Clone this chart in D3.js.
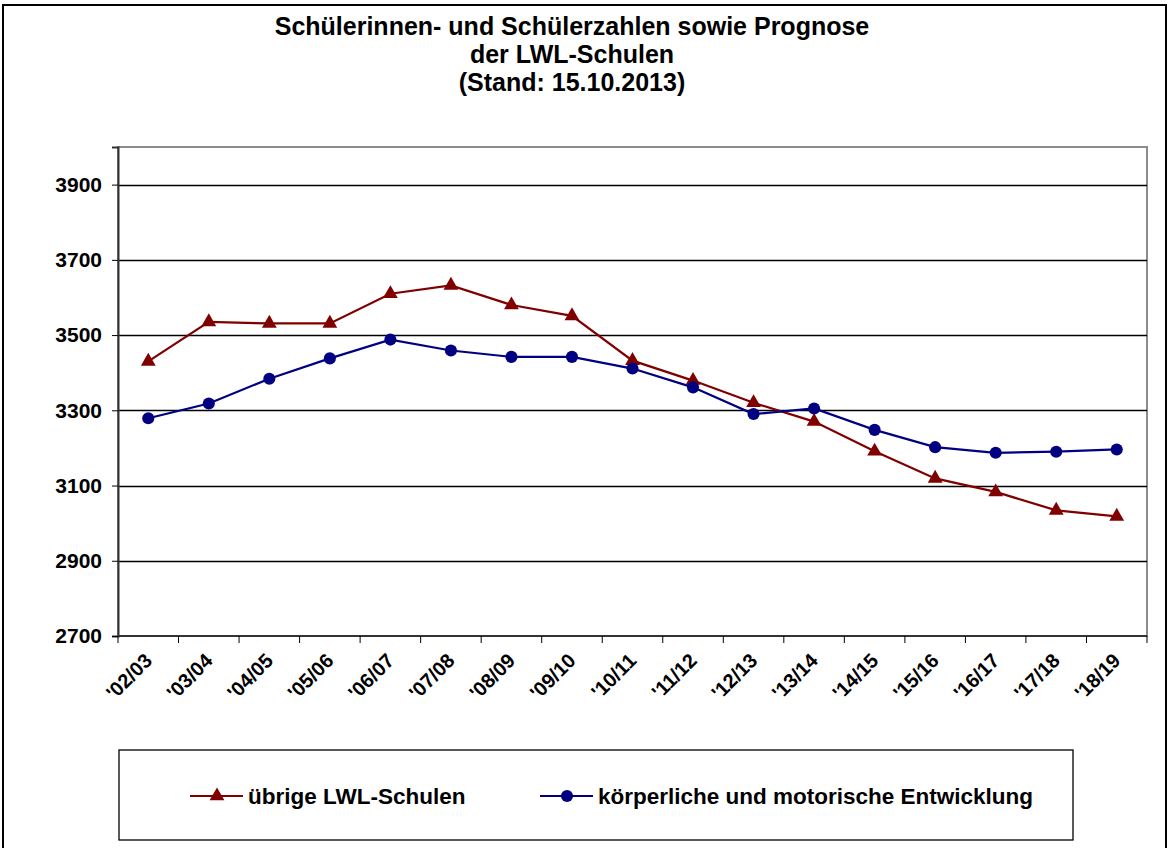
<!DOCTYPE html>
<html>
<head>
<meta charset="utf-8">
<script src="https://cdn.jsdelivr.net/npm/d3@7"></script>
<style>
  body { margin: 0; background: #fff; }
  svg { display: block; font-family: "Liberation Sans", Arial, sans-serif; }
</style>
</head>
<body>
<script>
var years = ["'02/03", "'03/04", "'04/05", "'05/06", "'06/07", "'07/08", "'08/09", "'09/10",
             "'10/11", "'11/12", "'12/13", "'13/14", "'14/15", "'15/16", "'16/17", "'17/18", "'18/19"];

var uebrige = [3430, 3535, 3531, 3531, 3610, 3632, 3580, 3551, 3432, 3379, 3320, 3270, 3191, 3119, 3083, 3034, 3018];
var koerper = [3279, 3318, 3384, 3438, 3488, 3459, 3442, 3442, 3411, 3361, 3290, 3305, 3248, 3202, 3187, 3190, 3196];

var yTicks = [2700, 2900, 3100, 3300, 3500, 3700, 3900];

var titleLines = ["Schülerinnen- und Schülerzahlen sowie Prognose", "der LWL-Schulen", "(Stand: 15.10.2013)"];

var series = [
    { name: "übrige LWL-Schulen", values: uebrige, color: "#800000", symbol: "triangle" },
    { name: "körperliche und motorische Entwicklung", values: koerper, color: "#000080", symbol: "circle" }
];

var width = 1170, height = 848;
var plot = { left: 118, right: 1147, top: 147, bottom: 636 };

var svg = d3.select("body").append("svg")
    .attr("width", width)
    .attr("height", height);

// outer frame
svg.append("rect")
    .attr("x", 3).attr("y", 5)
    .attr("width", 1163).attr("height", 860)
    .attr("fill", "#fff")
    .attr("stroke", "#000")
    .attr("stroke-width", 2);

// title
svg.append("g").selectAll("text")
    .data(titleLines)
    .enter().append("text")
    .attr("x", 572)
    .attr("y", function(d, i) { return 35 + i * 28; })
    .attr("text-anchor", "middle")
    .attr("font-size", 25)
    .attr("font-weight", "bold")
    .text(function(d) { return d; });

var x = d3.scaleBand()
    .domain(years)
    .range([plot.left, plot.right]);

var y = d3.scaleLinear()
    .domain([2700, 4000])
    .range([plot.bottom, plot.top]);

// plot area border
svg.append("rect")
    .attr("x", plot.left).attr("y", plot.top)
    .attr("width", plot.right - plot.left)
    .attr("height", plot.bottom - plot.top)
    .attr("fill", "#fff")
    .attr("stroke", "#8c8c8c")
    .attr("stroke-width", 2);

// gridlines
svg.append("g").selectAll("line")
    .data(yTicks.slice(1))
    .enter().append("line")
    .attr("x1", plot.left).attr("x2", plot.right)
    .attr("y1", function(d) { return Math.round(y(d)) + 0.5; })
    .attr("y2", function(d) { return Math.round(y(d)) + 0.5; })
    .attr("stroke", "#000")
    .attr("stroke-width", 1.3);

// y axis
var yAxis = svg.append("g")
    .attr("transform", "translate(" + plot.left + ",0)")
    .call(d3.axisLeft(y).tickValues(yTicks).tickSize(6).tickPadding(10).tickFormat(d3.format("d")));
yAxis.select(".domain").attr("stroke", "#333").attr("stroke-width", 2);
yAxis.selectAll(".tick line").attr("stroke", "#000");
yAxis.selectAll("text")
    .attr("font-size", 21)
    .attr("font-weight", "bold")
    .attr("font-family", "Liberation Sans, Arial, sans-serif")
    .attr("fill", "#000");

// x axis: ticks between categories
var xAxis = svg.append("g")
    .attr("transform", "translate(0," + plot.bottom + ")");
xAxis.append("line")
    .attr("x1", plot.left).attr("x2", plot.right)
    .attr("stroke", "#333").attr("stroke-width", 2);
var boundaries = years.map(function(d) { return x(d); }).concat([plot.right]);
xAxis.selectAll(".xtick")
    .data(boundaries)
    .enter().append("line")
    .attr("class", "xtick")
    .attr("x1", function(d) { return d; }).attr("x2", function(d) { return d; })
    .attr("y1", 0).attr("y2", 7)
    .attr("stroke", "#000");
xAxis.selectAll("text")
    .data(years)
    .enter().append("text")
    .attr("transform", function(d) {
        return "translate(" + (x(d) + x.bandwidth() / 2 + 5) + ",26) rotate(-45)";
    })
    .attr("text-anchor", "end")
    .attr("font-size", 20)
    .attr("font-weight", "bold")
    .text(function(d) { return d; });

// lines and markers
var line = d3.line()
    .x(function(d, i) { return x(years[i]) + x.bandwidth() / 2; })
    .y(function(d) { return y(d); });

var triangle = d3.symbol().type(d3.symbolTriangle).size(95);
var circle = d3.symbol().type(d3.symbolCircle).size(115);

series.forEach(function(s) {
    svg.append("path")
        .datum(s.values)
        .attr("fill", "none")
        .attr("stroke", s.color)
        .attr("stroke-width", 2.2)
        .attr("d", line);

    svg.append("g").selectAll("path")
        .data(s.values)
        .enter().append("path")
        .attr("transform", function(d, i) {
            return "translate(" + (x(years[i]) + x.bandwidth() / 2) + "," + y(d) + ")";
        })
        .attr("d", s.symbol === "triangle" ? triangle : circle)
        .attr("fill", s.color);
});

// legend
var legend = svg.append("g");
legend.append("rect")
    .attr("x", 119).attr("y", 750)
    .attr("width", 954).attr("height", 90)
    .attr("fill", "#fff")
    .attr("stroke", "#000")
    .attr("stroke-width", 1.3);

var legendX = [190, 540];
series.forEach(function(s, i) {
    var g = legend.append("g").attr("transform", "translate(" + legendX[i] + ",796)");
    g.append("line")
        .attr("x1", 0).attr("x2", 53)
        .attr("stroke", s.color).attr("stroke-width", 2.2);
    g.append("path")
        .attr("transform", "translate(27,0)")
        .attr("d", s.symbol === "triangle" ? triangle : circle)
        .attr("fill", s.color);
    g.append("text")
        .attr("x", 58).attr("y", 8)
        .attr("font-size", 22.5)
        .attr("font-weight", "bold")
        .text(s.name);
});
</script>
</body>
</html>
